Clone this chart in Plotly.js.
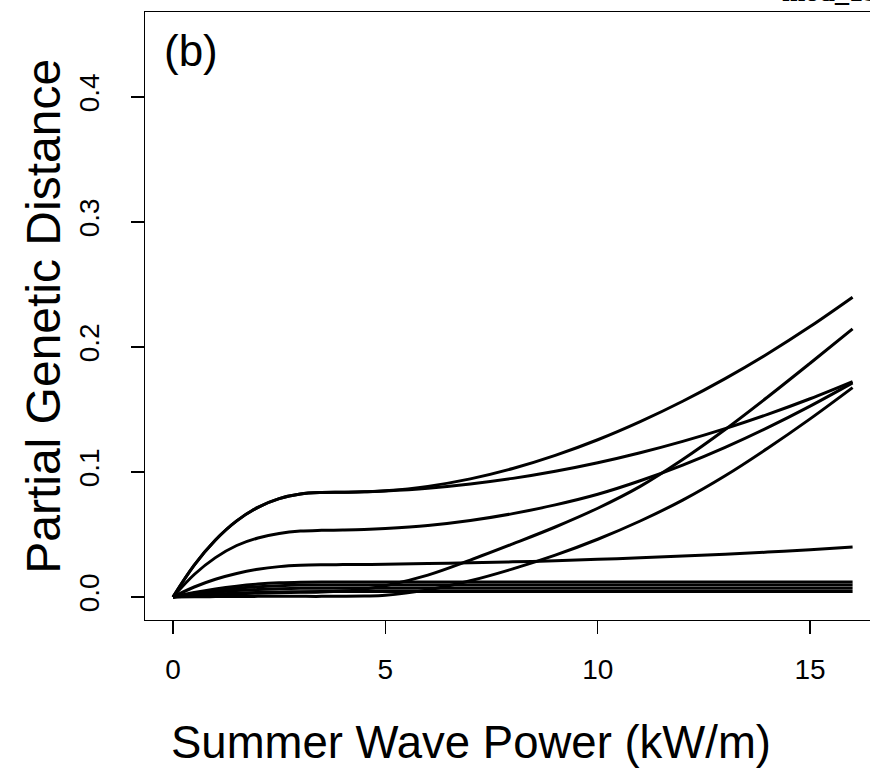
<!DOCTYPE html>
<html>
<head>
<meta charset="utf-8">
<script src="https://cdn.plot.ly/plotly-3.0.1.min.js"></script>
<style>html,body{margin:0;padding:0;background:#fff;}#chart{width:870px;height:772px;}</style>
</head>
<body>
<div id="chart"></div>
<script>
// Summer wave power (kW/m)
var waveX = [0,0.5,1,1.5,2,2.5,3,3.5,4,4.5,5,6,7,8,9,10,11,12,13,14,15,16];
// Partial genetic distance curves
var curveA = [0,0.0255,0.0456,0.0609,0.0717,0.0787,0.0824,0.0836,0.0838,0.0842,0.0850,0.0885,0.0945,0.1028,0.1133,0.1258,0.1403,0.1566,0.1747,0.1946,0.2163,0.2398];
var curveC = [0,0.0255,0.0456,0.0609,0.0717,0.0787,0.0824,0.0836,0.0838,0.0841,0.0848,0.0870,0.0904,0.0949,0.1006,0.1074,0.1154,0.1245,0.1347,0.1461,0.1586,0.1723];
var curveD = [0,0.0180,0.0315,0.0412,0.0472,0.0508,0.0527,0.0533,0.0535,0.0539,0.0547,0.0572,0.0612,0.0667,0.0737,0.0822,0.0930,0.1055,0.1197,0.1355,0.1527,0.1713];
var curveE = [0,0.0080,0.0142,0.0188,0.0222,0.0243,0.0254,0.0258,0.0259,0.0260,0.0262,0.0267,0.0273,0.0281,0.0290,0.0301,0.0313,0.0327,0.0342,0.0359,0.0378,0.0400];
var curveB = [0,0.0010,0.0018,0.0025,0.0030,0.0034,0.0037,0.0040,0.0048,0.0063,0.0090,0.0175,0.0295,0.0425,0.0560,0.0710,0.0885,0.1100,0.1340,0.1600,0.1870,0.2145];
var curveF = [0,0.0002,0.0003,0.0004,0.0005,0.0005,0.0005,0.0005,0.0006,0.0008,0.0013,0.0057,0.0130,0.0225,0.0335,0.0462,0.0608,0.0775,0.0970,0.1190,0.1425,0.1675];
var curveG1 = [0,0.0036,0.0065,0.0087,0.0103,0.0113,0.0118,0.0120,0.0120,0.0120,0.0120,0.0120,0.0120,0.0120,0.0120,0.0120,0.0120,0.0120,0.0120,0.0120,0.0120,0.0120];
var curveG2 = [0,0.0029,0.0052,0.0070,0.0082,0.0090,0.0095,0.0096,0.0096,0.0096,0.0096,0.0096,0.0096,0.0096,0.0096,0.0096,0.0096,0.0096,0.0096,0.0096,0.0096,0.0096];
var curveG3 = [0,0.0021,0.0038,0.0051,0.0060,0.0066,0.0069,0.0070,0.0070,0.0070,0.0070,0.0070,0.0070,0.0070,0.0070,0.0070,0.0070,0.0070,0.0070,0.0070,0.0070,0.0070];
var curveG4 = [0,0.0013,0.0023,0.0031,0.0037,0.0040,0.0042,0.0043,0.0043,0.0043,0.0043,0.0043,0.0043,0.0043,0.0043,0.0043,0.0043,0.0043,0.0043,0.0043,0.0043,0.0043];

var xTicks = [0,5,10,15];
var yTicks = [0,0.1,0.2,0.3,0.4];
var xTitle = "Summer Wave Power (kW/m)";
var yTitle = "Partial Genetic Distance";
var panelLabel = "(b)";
var cornerNote = "mod_1b";

var allCurves = [curveA, curveC, curveD, curveE, curveB, curveF, curveG1, curveG2, curveG3, curveG4];
var traces = allCurves.map(function (ys) {
  return {
    x: waveX, y: ys, type: 'scatter', mode: 'lines',
    line: {color: '#000', width: 3, shape: 'spline', smoothing: 1},
    hoverinfo: 'skip', showlegend: false
  };
});

var FONT = 'Liberation Sans, Arial, Helvetica, sans-serif';
var layout = {
  width: 870, height: 772,
  margin: {l: 145, r: 0, t: 12, b: 152, pad: 0},
  paper_bgcolor: '#fff', plot_bgcolor: '#fff',
  showlegend: false,
  xaxis: {
    range: [-0.659, 16.41], tickvals: xTicks, ticktext: xTicks.map(String),
    showgrid: false, zeroline: false,
    showline: true, linecolor: '#000', linewidth: 1.4, mirror: true,
    ticks: 'outside', ticklen: 13, tickwidth: 1.4, tickcolor: '#000',
    tickfont: {family: FONT, size: 28, color: '#000'},
    ticklabelstandoff: 11
  },
  yaxis: {
    range: [-0.0184, 0.468], tickvals: yTicks, ticktext: yTicks.map(function (v) { return v.toFixed(1); }),
    showgrid: false, zeroline: false,
    showline: true, linecolor: '#000', linewidth: 1.4,
    ticks: 'outside', ticklen: 13, tickwidth: 1.4, tickcolor: '#000',
    tickangle: -90,
    tickfont: {family: FONT, size: 28, color: '#000'},
    ticklabelstandoff: 20
  },
  annotations: [
    {text: xTitle, xref: 'paper', yref: 'paper', x: 0.4497, y: -0.2007,
     xanchor: 'center', yanchor: 'middle', showarrow: false,
     font: {family: FONT, size: 45.5, color: '#000'}},
    {text: yTitle, xref: 'paper', yref: 'paper', x: -0.141, y: 0.5,
     xanchor: 'center', yanchor: 'middle', textangle: -90, showarrow: false,
     font: {family: FONT, size: 48, color: '#000'}},
    {text: panelLabel, xref: 'paper', yref: 'paper', x: 0.0634, y: 0.9375,
     xanchor: 'center', yanchor: 'middle', showarrow: false,
     font: {family: FONT, size: 44, color: '#000'}},
    {text: '<b>' + cornerNote + '</b>', xref: 'paper', yref: 'paper', x: 1, y: 1,
     xanchor: 'right', yanchor: 'bottom', yshift: 3, xshift: 10, showarrow: false,
     font: {family: 'Liberation Serif, serif', size: 28, color: '#000'}}
  ]
};

Plotly.newPlot('chart', traces, layout, {displayModeBar: false, staticPlot: true});
</script>
</body>
</html>
